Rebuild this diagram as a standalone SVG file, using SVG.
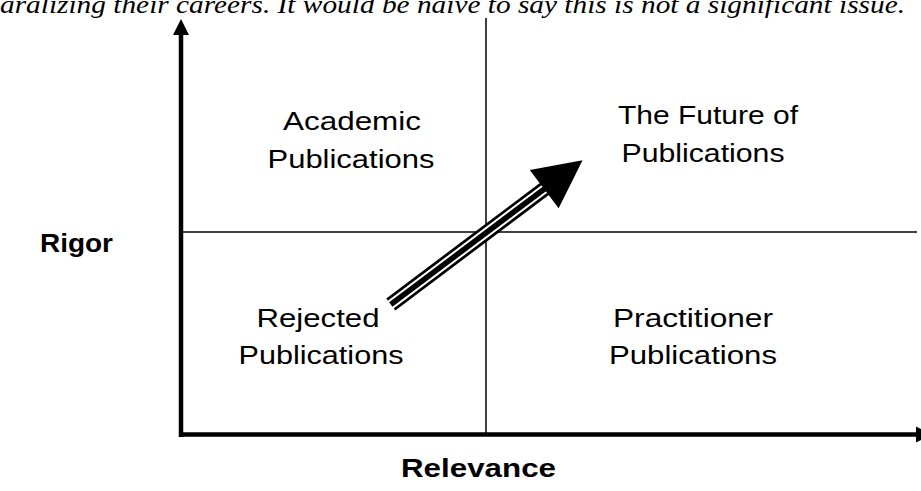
<svg xmlns="http://www.w3.org/2000/svg" width="921" height="491" viewBox="0 0 921 491">
<style>
.lbl{font-family:"Liberation Sans",Arial,sans-serif;font-size:26px;fill:#000;text-anchor:middle}
.ax{font-family:"Liberation Sans",Arial,sans-serif;font-size:26px;font-weight:bold;fill:#000}
.top{font-family:"Liberation Serif","Times New Roman",serif;font-size:26px;font-style:italic;fill:#000}
.grid{stroke:#000;stroke-width:1.5;fill:none}
.axis{stroke:#000;stroke-width:4.5;fill:none}
</style>
<rect width="921" height="491" fill="#fff"/>
<text class="top" x="0" y="13" textLength="905" lengthAdjust="spacingAndGlyphs">aralizing their careers. It would be naive to say this is not a significant issue.</text>
<g id="connectors">
<line class="grid" x1="486" y1="18" x2="486" y2="435"/>
<line class="grid" x1="181" y1="232" x2="917" y2="232"/>
<line class="axis" x1="181" y1="437" x2="181" y2="34"/>
<polygon points="173,35 181,19 189,35" fill="#000"/>
<line class="axis" x1="179" y1="434.5" x2="917" y2="434.5"/>
<polygon points="916,426.5 932,434.5 916,442.5" fill="#000"/>
<g id="trend-arrow" transform="translate(390.8,304.5) rotate(-36.96)">
<line x1="0" y1="0" x2="193" y2="0" stroke="#000" stroke-width="15"/>
<line x1="-1" y1="0" x2="193" y2="0" stroke="#fff" stroke-width="9.5"/>
<line x1="0" y1="0" x2="193" y2="0" stroke="#000" stroke-width="5.5"/>
<polygon points="192,-24 240,0 192,24" fill="#000"/>
</g>
</g>
<g id="academic">
<text class="lbl" x="352" y="130" textLength="138" lengthAdjust="spacingAndGlyphs">Academic</text>
<text class="lbl" x="351" y="168" textLength="167" lengthAdjust="spacingAndGlyphs">Publications</text>
</g>
<g id="future">
<text class="lbl" x="708" y="124" textLength="180" lengthAdjust="spacingAndGlyphs">The Future of</text>
<text class="lbl" x="703" y="162" textLength="163" lengthAdjust="spacingAndGlyphs">Publications</text>
</g>
<g id="rejected">
<text class="lbl" x="318" y="327" textLength="123" lengthAdjust="spacingAndGlyphs">Rejected</text>
<text class="lbl" x="321" y="364" textLength="165" lengthAdjust="spacingAndGlyphs">Publications</text>
</g>
<g id="practitioner">
<text class="lbl" x="693" y="327" textLength="160" lengthAdjust="spacingAndGlyphs">Practitioner</text>
<text class="lbl" x="693" y="364" textLength="168" lengthAdjust="spacingAndGlyphs">Publications</text>
</g>
<g id="rigor">
<text class="ax" x="40" y="252" textLength="73" lengthAdjust="spacingAndGlyphs">Rigor</text>
</g>
<g id="relevance">
<text class="ax" x="401" y="477" textLength="155" lengthAdjust="spacingAndGlyphs">Relevance</text>
</g>
</svg>
